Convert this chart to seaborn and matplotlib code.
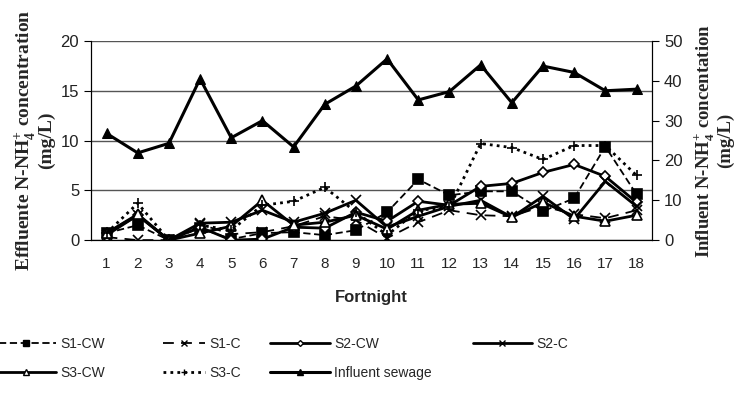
import numpy as np
import pandas as pd
import matplotlib.pyplot as plt
import seaborn as sns
from matplotlib.lines import Line2D

fortnight = list(range(1, 19))
s1_cw = [0.7, 1.5, 0.0, 1.2, 0.1, 0.7, 0.8, 0.5, 1.0, 2.8, 6.1, 4.5, 4.9, 4.9, 2.9, 4.2, 9.4, 4.6]
s1_c = [0.3, 0.0, 0.0, 1.6, 0.6, 0.8, 1.4, 2.4, 2.0, 0.2, 1.8, 3.0, 2.5, 2.4, 3.4, 2.6, 2.2, 3.0]
s2_cw = [0.7, 2.5, 0.0, 1.3, 0.0, 0.1, 1.3, 1.2, 2.8, 1.9, 3.9, 3.5, 5.4, 5.7, 6.8, 7.6, 6.4, 3.8]
s2_c = [0.5, 2.5, 0.0, 1.7, 1.8, 3.0, 1.8, 2.7, 4.0, 1.3, 2.4, 3.4, 4.0, 2.3, 4.4, 2.1, 5.9, 3.4]
s3_cw = [0.7, 2.6, 0.0, 0.7, 1.4, 4.0, 1.5, 1.8, 2.5, 1.1, 3.0, 3.6, 3.7, 2.3, 3.8, 2.4, 1.9, 2.5]
s3_c = [0.7, 3.7, 0.0, 1.5, 1.0, 3.5, 3.9, 5.3, 2.8, 0.5, 3.0, 3.3, 9.7, 9.3, 8.1, 9.5, 9.5, 6.5]
influent = [26.8, 21.9, 24.3, 40.5, 25.7, 30.0, 23.4, 34.1, 38.7, 45.5, 35.2, 37.3, 44.0, 34.5, 43.7, 42.1, 37.5, 37.9]

sns.set_style('white')
plt.rcParams['font.family'] = ['Liberation Sans', 'DejaVu Sans']
plt.rcParams['mathtext.fontset'] = 'custom'
plt.rcParams['mathtext.rm'] = 'Liberation Serif'
plt.rcParams['mathtext.bf'] = 'Liberation Serif:bold'

fig = plt.figure(figsize=(7.36, 3.93), dpi=100)
ax = fig.add_axes([0.1236, 0.389, 0.7624, 0.5067])
ax2 = ax.twinx()

series = [
    ('S1-CW', s1_cw, 's', (0, (4, 2)), 1.3, 'black'),
    ('S1-C', s1_c, 'x', (0, (6, 4)), 1.3, 'black'),
    ('S2-CW', s2_cw, 'D', '-', 2.0, 'white'),
    ('S2-C', s2_c, 'x', '-', 2.0, 'black'),
    ('S3-CW', s3_cw, '^', '-', 2.0, 'white'),
    ('S3-C', s3_c, '+', (0, (1, 1.5)), 2.0, 'black'),
]
handles = {}
for name, vals, mk, ls, lw, mfc in series:
    df = pd.DataFrame({'Fortnight': fortnight, 'val': vals})
    ms = 5 if mk == 'D' else 7
    sns.lineplot(data=df, x='Fortnight', y='val', ax=ax, color='black', marker=mk, ls=ls, lw=lw,
                 markersize=ms, markerfacecolor=mfc, markeredgecolor='black', markeredgewidth=1.2)
    handles[name] = Line2D([], [], color='black', marker=mk, ls=ls, lw=lw, markersize=ms - 2,
                           markerfacecolor=mfc, markeredgecolor='black')

dfi = pd.DataFrame({'Fortnight': fortnight, 'val': influent})
sns.lineplot(data=dfi, x='Fortnight', y='val', ax=ax2, color='black', marker='^', lw=2.2,
             markersize=7, markerfacecolor='black', markeredgecolor='black')
handles['Influent sewage'] = Line2D([], [], color='black', marker='^', lw=2.2, markersize=5)

ax.set_xlim(0.5, 18.5)
ax.set_ylim(0, 20)
ax2.set_ylim(0, 50)
ax.set_yticks([0, 5, 10, 15, 20])
ax2.set_yticks([0, 10, 20, 30, 40, 50])
ax.set_xticks(fortnight)
ax.set_xticks(np.arange(0.5, 19, 1), minor=True)
ax.tick_params(axis='x', which='major', length=0, labelsize=11, pad=12)
ax.tick_params(axis='x', which='minor', length=6, direction='out', width=1, color='black')
ax.tick_params(axis='y', length=5, direction='out', labelsize=12, left=True, color='black', labelcolor='#222222')
ax2.tick_params(axis='y', length=5, direction='out', labelsize=12, right=True, color='black', labelcolor='#222222')
ax.grid(axis='y', color='#555555', lw=1.0)
ax.set_axisbelow(True)
for a in (ax, ax2):
    a.spines['top'].set_visible(False)
    a.spines['left'].set_color('black')
    a.spines['right'].set_color('black')
    a.spines['bottom'].set_color('black')
ax2.grid(False)

ax.set_xlabel('Fortnight', fontsize=12, fontweight='bold', labelpad=14)
ax.set_ylabel(r'Effluente N-NH$_\mathbf{4}^\mathbf{+}$ concentration' + '\n(mg/L)', fontsize=14,
              fontweight='bold', family='Liberation Serif', labelpad=4, linespacing=1.0)
ax2.set_ylabel(r'Influent N-NH$_\mathbf{4}^\mathbf{+}$ concentation' + '\n(mg/L)', fontsize=13.5,
               fontweight='bold', family='Liberation Serif', rotation=90, labelpad=7, linespacing=1.0)

# legend: one column per legend so handle/text positions can follow the reference
cols = [(['S1-CW', 'S3-CW'], -0.005, 4.3),
        (['S1-C', 'S3-C'], 0.222, 3.0),
        (['S2-CW', 'Influent sewage'], 0.367, 4.3),
        (['S2-C'], 0.642, 4.3)]
for names, x0, hl in cols:
    leg = fig.legend([handles[k] for k in names], names, loc='upper left', bbox_to_anchor=(x0, 0.142),
                     frameon=False, fontsize=10, handlelength=hl, handletextpad=0.3,
                     labelspacing=1.05, borderaxespad=0, borderpad=0)

fig.savefig('out.png', dpi=100)
